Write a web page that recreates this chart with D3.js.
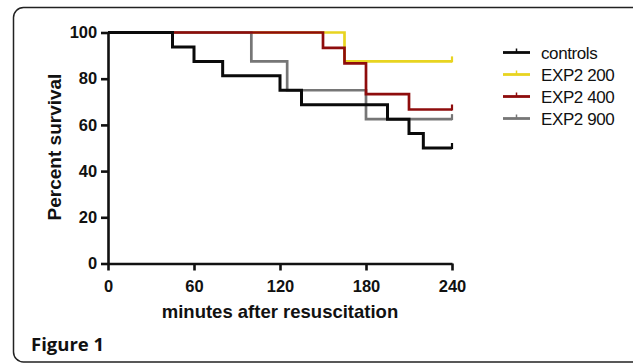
<!DOCTYPE html>
<html>
<head>
<meta charset="utf-8">
<script src="https://cdn.jsdelivr.net/npm/d3@7"></script>
<style>
  body { margin: 0; background: #fff; }
  svg { display: block; }
  .tick text { font-family: "Liberation Sans", Arial, sans-serif; font-weight: bold; font-size: 16.5px; fill: #111; }
</style>
</head>
<body>
<svg width="633" height="363"></svg>
<script>
// Kaplan-Meier steps
var seriesNames = ['controls', 'EXP2 200', 'EXP2 400', 'EXP2 900'];
var seriesColors = ['#0a0a0a', '#e8d420', '#8e0c0c', '#767676'];

var controlsTimes = [0, 45, 60, 80, 120, 135, 195, 210, 220, 240];
var controlsSurv = [100, 93.75, 87.5, 81.25, 75, 68.75, 62.5, 56.25, 50, 50];
var exp200Times = [0, 165, 240];
var exp200Surv = [100, 87.5, 87.5];
var exp400Times = [0, 150, 165, 180, 210, 240];
var exp400Surv = [100, 93.33, 86.67, 73.33, 66.67, 66.67];
var exp900Times = [0, 100, 125, 180, 240];
var exp900Surv = [100, 87.5, 75, 62.5, 62.5];

var xTicks = [0, 60, 120, 180, 240];
var yTicks = [0, 20, 40, 60, 80, 100];

var svg = d3.select('svg');

// panel frame
svg.append('rect')
    .attr('x', 13.5).attr('y', 7.5)
    .attr('width', 640).attr('height', 354.5)
    .attr('rx', 10)
    .attr('fill', 'none')
    .attr('stroke', '#222')
    .attr('stroke-width', 1.5);

var x = d3.scaleLinear().domain([0, 240]).range([108, 452]);
var y = d3.scaleLinear().domain([0, 100]).range([263.5, 32.5]);

var xAxis = svg.append('g')
    .attr('transform', 'translate(0,' + y(0) + ')')
    .call(d3.axisBottom(x).tickValues(xTicks).tickSize(7).tickSizeOuter(0));
xAxis.selectAll('text').attr('dy', '1.1em');

var yAxis = svg.append('g')
    .attr('transform', 'translate(' + x(0) + ',0)')
    .call(d3.axisLeft(y).tickValues(yTicks).tickSize(7).tickSizeOuter(0));
yAxis.selectAll('text').attr('dx', '-0.05em');

svg.selectAll('.domain, .tick line')
    .attr('stroke', '#111')
    .attr('stroke-width', 2.6);

// axis titles
svg.append('text')
    .attr('x', 280).attr('y', 318)
    .attr('text-anchor', 'middle')
    .style('font', 'bold 18.5px "Liberation Sans", Arial, sans-serif')
    .attr('fill', '#111')
    .text('minutes after resuscitation');

svg.append('text')
    .attr('transform', 'translate(61,147) rotate(-90)')
    .attr('text-anchor', 'middle')
    .style('font', 'bold 19px "Liberation Sans", Arial, sans-serif')
    .attr('fill', '#111')
    .text('Percent survival');

var series = [
    { times: exp200Times, surv: exp200Surv, idx: 1 },
    { times: exp900Times, surv: exp900Surv, idx: 3 },
    { times: exp400Times, surv: exp400Surv, idx: 2 },
    { times: controlsTimes, surv: controlsSurv, idx: 0 }
];

var line = d3.line()
    .x(d => x(d[0]))
    .y(d => y(d[1]))
    .curve(d3.curveStepAfter);

series.forEach(s => {
    var pts = s.times.map((t, i) => [t, s.surv[i]]);
    svg.append('path')
        .datum(pts)
        .attr('d', line)
        .attr('fill', 'none')
        .attr('stroke', seriesColors[s.idx])
        .attr('stroke-width', s.idx === 0 ? 3 : 2.7)
        .attr('stroke-linejoin', 'miter');
    // censor tick at the end of follow-up
    var last = pts[pts.length - 1];
    svg.append('line')
        .attr('x1', x(last[0])).attr('x2', x(last[0]))
        .attr('y1', y(last[1]) + 1).attr('y2', y(last[1]) - 5)
        .attr('stroke', seriesColors[s.idx])
        .attr('stroke-width', 2.2);
});

// legend
var legend = svg.append('g');
seriesNames.forEach((name, i) => {
    var ly = 52.5 + i * 22;
    legend.append('line')
        .attr('x1', 503).attr('x2', 530)
        .attr('y1', ly).attr('y2', ly)
        .attr('stroke', seriesColors[i])
        .attr('stroke-width', 2.8);
    legend.append('line')
        .attr('x1', 516.5).attr('x2', 516.5)
        .attr('y1', ly).attr('y2', ly - 4)
        .attr('stroke', seriesColors[i])
        .attr('stroke-width', 1.5);
    legend.append('text')
        .attr('x', 541).attr('y', ly + 6)
        .style('font', '17px "Liberation Sans", Arial, sans-serif')
        .style('letter-spacing', '-0.4px')
        .attr('fill', '#111')
        .text(name);
});

svg.append('text')
    .attr('x', 31).attr('y', 351)
    .style('font', 'bold 18.5px "Open Sans", "Noto Sans", sans-serif')
    .attr('fill', '#111')
    .text('Figure 1');
</script>
</body>
</html>
